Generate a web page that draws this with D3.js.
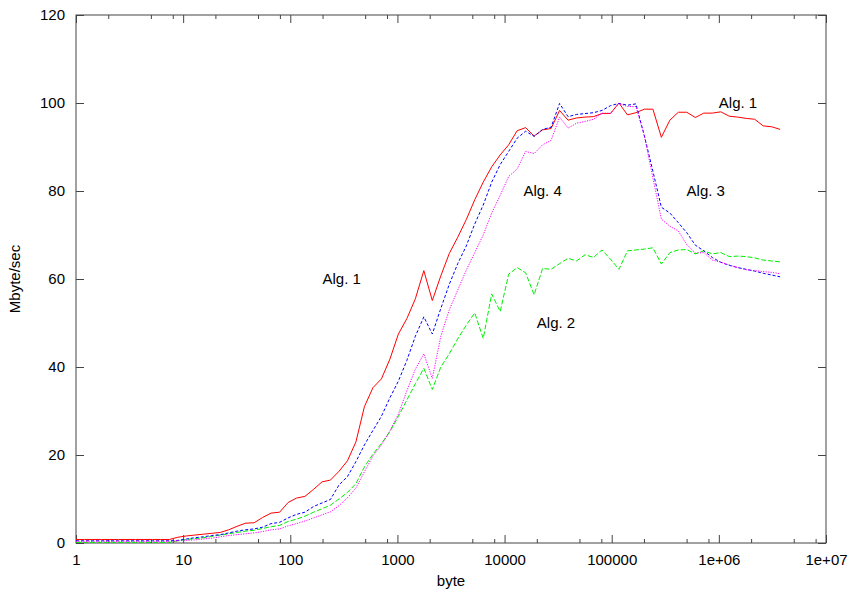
<!DOCTYPE html>
<html>
<head>
<meta charset="utf-8">
<script src="https://cdn.jsdelivr.net/npm/d3@7"></script>
<style>
  html, body { margin: 0; padding: 0; background: #fff; }
  svg { display: block; }
  text { font-family: "Liberation Sans", Arial, Helvetica, sans-serif; fill: #000; }
</style>
</head>
<body>
<svg id="chart" width="851" height="595"></svg>
<script>
// Message sizes (bytes), geometric steps of 1.2
const bytes = [1, 1.2, 1.44, 1.73, 2.07, 2.49, 2.99, 3.58, 4.3, 5.16, 6.19, 7.43,
  8.92, 10.7, 12.8, 15.4, 18.5, 22.2, 26.6, 31.9, 38.3, 46, 55.2, 66.2,
  79.5, 95.4, 114, 137, 165, 198, 237, 285, 342, 410, 492, 591,
  709, 851, 1021, 1225, 1470, 1764, 2116, 2540, 3048, 3657, 4389, 5266,
  6320, 7584, 9100, 10920, 13105, 15726, 18871, 22645, 27174, 32609, 39130, 46956,
  56348, 67617, 81140, 97369, 116842, 140211, 168253, 201903, 242284, 290741, 348889, 418667,
  502400, 602880, 723456, 868147, 1041777, 1250132, 1500159, 1800190, 2160228, 2592274, 3110729, 3732875];

// Throughput in Mbyte/sec for each algorithm
const alg1 = [0.8, 0.8, 0.8, 0.8, 0.8, 0.8, 0.8, 0.8, 0.8, 0.8, 0.8, 0.8,
  1.3, 1.6, 1.8, 2.0, 2.2, 2.4, 3.0, 3.8, 4.5, 4.6, 5.8, 6.8,
  7.0, 9.2, 10.2, 10.6, 12.2, 13.9, 14.3, 16.3, 18.7, 23.0, 31.0, 35.3,
  37.3, 41.8, 47.5, 51.0, 55.5, 61.9, 55.1, 60.7, 65.8, 69.5, 73.5, 78.0,
  82.0, 85.5, 88.2, 90.5, 93.7, 94.4, 92.5, 93.9, 94.2, 98.3, 96.1, 96.6,
  96.8, 96.9, 97.6, 97.6, 100.0, 97.3, 97.8, 98.6, 98.6, 92.2, 96.1, 97.9,
  97.9, 96.7, 97.7, 97.7, 98.0, 97.0, 96.8, 96.5, 96.3, 94.8, 94.6, 94.0];

const alg2 = [0.15, 0.15, 0.15, 0.15, 0.15, 0.15, 0.15, 0.15, 0.15, 0.15, 0.15, 0.15,
  0.5, 0.8, 1.0, 1.2, 1.5, 1.8, 2.1, 2.4, 2.7, 2.9, 3.3, 3.7,
  4.0, 4.9, 5.4, 6.1, 7.0, 7.8, 8.6, 10.0, 11.5, 13.5, 17.3, 20.2,
  22.6, 25.3, 28.8, 32.5, 36.2, 39.7, 34.9, 40.0, 43.0, 46.4, 49.5, 52.3,
  46.5, 56.6, 52.6, 61.1, 62.6, 61.4, 56.4, 62.4, 62.2, 63.5, 64.7, 64.1,
  65.5, 64.9, 66.6, 64.5, 62.2, 66.4, 66.6, 66.8, 67.1, 63.4, 66.0, 66.6,
  66.7, 65.7, 66.4, 65.7, 66.0, 65.1, 65.2, 65.1, 64.8, 64.3, 64.1, 63.9];

const alg3 = [0.5, 0.5, 0.5, 0.5, 0.5, 0.5, 0.5, 0.5, 0.5, 0.5, 0.5, 0.5,
  0.6, 0.9, 1.2, 1.4, 1.7, 1.9, 2.3, 2.7, 3.0, 3.2, 3.6, 4.4,
  4.7, 5.7, 6.5, 7.0, 8.3, 9.1, 9.9, 13.2, 15.1, 18.5, 22.3, 25.6,
  28.8, 33.0, 36.8, 41.5, 47.0, 51.4, 47.5, 53.3, 58.8, 63.5, 67.5, 72.5,
  76.8, 82.0, 86.0, 89.0, 92.0, 93.6, 92.4, 94.0, 94.5, 99.9, 96.9, 97.4,
  97.6, 97.8, 98.3, 99.4, 99.9, 99.5, 99.8, 92.5, 84.5, 76.3, 75.0, 72.8,
  70.5, 67.7, 66.4, 64.9, 63.8, 63.1, 62.6, 62.2, 61.8, 61.3, 60.9, 60.5];

const alg4 = [0.4, 0.4, 0.4, 0.4, 0.4, 0.4, 0.4, 0.4, 0.4, 0.4, 0.4, 0.4,
  0.5, 0.6, 0.7, 0.9, 1.1, 1.4, 1.7, 1.9, 2.1, 2.3, 2.6, 3.0,
  3.2, 3.9, 4.4, 5.0, 5.7, 6.4, 7.1, 8.5, 10.3, 12.5, 16.2, 19.8,
  22.3, 25.5, 29.3, 34.6, 39.5, 43.0, 37.4, 47.0, 53.0, 57.5, 62.0, 66.0,
  70.0, 75.0, 79.0, 83.3, 85.0, 89.0, 88.5, 90.5, 91.5, 96.8, 94.3, 95.4,
  95.8, 96.3, 97.7, 97.7, 99.9, 99.2, 99.2, 92.5, 83.0, 73.6, 72.0, 70.9,
  67.8, 65.9, 66.0, 64.3, 63.8, 63.2, 62.6, 62.1, 61.9, 61.7, 61.5, 61.2];

// Axis ticks
const xMajorTicks = [1, 10, 100, 1000, 10000, 100000, 1e6, 1e7];
const xTickLabels = ["1", "10", "100", "1000", "10000", "100000", "1e+06", "1e+07"];
const xMinorTicks = [2, 5, 8, 20, 50, 80, 200, 500, 800, 2000, 5000, 8000,
  2e4, 5e4, 8e4, 2e5, 5e5, 8e5, 2e6, 5e6, 8e6];
const yTicks = [0, 20, 40, 60, 80, 100, 120];

// In-plot annotations (data coordinates, left-aligned)
const noteText = ["Alg. 1", "Alg. 1", "Alg. 4", "Alg. 3", "Alg. 2"];
const noteX = [200, 1e6, 15000, 5e5, 2e4];
const noteY = [60, 100, 80, 80, 50];

const svg = d3.select("#chart");
const margin = { left: 76, right: 826, top: 15, bottom: 543 };

const x = d3.scaleLog().domain([1, 1e7]).range([margin.left, margin.right]);
const y = d3.scaleLinear().domain([0, 120]).range([margin.bottom, margin.top]);

const axisColor = "#444";
const fontSize = "15px";

function styleAxis(g) {
  g.select(".domain").remove();
  g.selectAll(".tick line").attr("stroke", axisColor);
  g.selectAll(".tick text").style("font-size", fontSize).attr("fill", "#000");
}

// Major and minor ticks on all four sides, pointing inward
svg.append("g").attr("transform", `translate(0,${margin.bottom})`)
  .call(d3.axisBottom(x).tickValues(xMajorTicks).tickSize(-8).tickSizeOuter(0).tickPadding(11)
    .tickFormat((d, i) => xTickLabels[i]))
  .call(styleAxis);
svg.append("g").attr("transform", `translate(0,${margin.bottom})`)
  .call(d3.axisBottom(x).tickValues(xMinorTicks).tickSize(-4).tickSizeOuter(0).tickFormat(""))
  .call(styleAxis);
svg.append("g").attr("transform", `translate(0,${margin.top})`)
  .call(d3.axisTop(x).tickValues(xMajorTicks).tickSize(-8).tickSizeOuter(0).tickFormat(""))
  .call(styleAxis);
svg.append("g").attr("transform", `translate(0,${margin.top})`)
  .call(d3.axisTop(x).tickValues(xMinorTicks).tickSize(-4).tickSizeOuter(0).tickFormat(""))
  .call(styleAxis);
svg.append("g").attr("transform", `translate(${margin.left},0)`)
  .call(d3.axisLeft(y).tickValues(yTicks).tickSize(-8).tickSizeOuter(0).tickPadding(11)
    .tickFormat(d3.format("d")))
  .call(styleAxis);
svg.append("g").attr("transform", `translate(${margin.right},0)`)
  .call(d3.axisRight(y).tickValues(yTicks).tickSize(-8).tickSizeOuter(0).tickFormat(""))
  .call(styleAxis);

// Plot border
svg.append("rect")
  .attr("x", margin.left).attr("y", margin.top)
  .attr("width", margin.right - margin.left).attr("height", margin.bottom - margin.top)
  .attr("fill", "none").attr("stroke", axisColor).attr("stroke-width", 1);

// Axis titles
svg.append("text")
  .attr("x", (margin.left + margin.right) / 2).attr("y", 586)
  .attr("text-anchor", "middle").style("font-size", fontSize)
  .text("byte");
svg.append("text")
  .attr("transform", `translate(20,${(margin.top + margin.bottom) / 2}) rotate(-90)`)
  .attr("text-anchor", "middle").style("font-size", fontSize)
  .text("Mbyte/sec");

// Series lines
const series = [
  { values: alg1, color: "#ff0000", dash: null },
  { values: alg2, color: "#00ee00", dash: "5,2" },
  { values: alg3, color: "#0000ff", dash: "3,2" },
  { values: alg4, color: "#ff00ff", dash: "1.2,1.3" }
];

const line = d3.line()
  .x(d => x(d[0]))
  .y(d => y(d[1]));

const plot = svg.append("g");
series.forEach(s => {
  plot.append("path")
    .datum(bytes.map((b, i) => [b, s.values[i]]))
    .attr("fill", "none")
    .attr("stroke", s.color)
    .attr("stroke-width", 1)
    .attr("stroke-dasharray", s.dash)
    .attr("d", line);
});

// Annotations
noteText.forEach((t, i) => {
  svg.append("text")
    .attr("x", x(noteX[i])).attr("y", y(noteY[i]))
    .attr("dy", "0.35em")
    .style("font-size", fontSize)
    .text(t);
});
</script>
</body>
</html>
